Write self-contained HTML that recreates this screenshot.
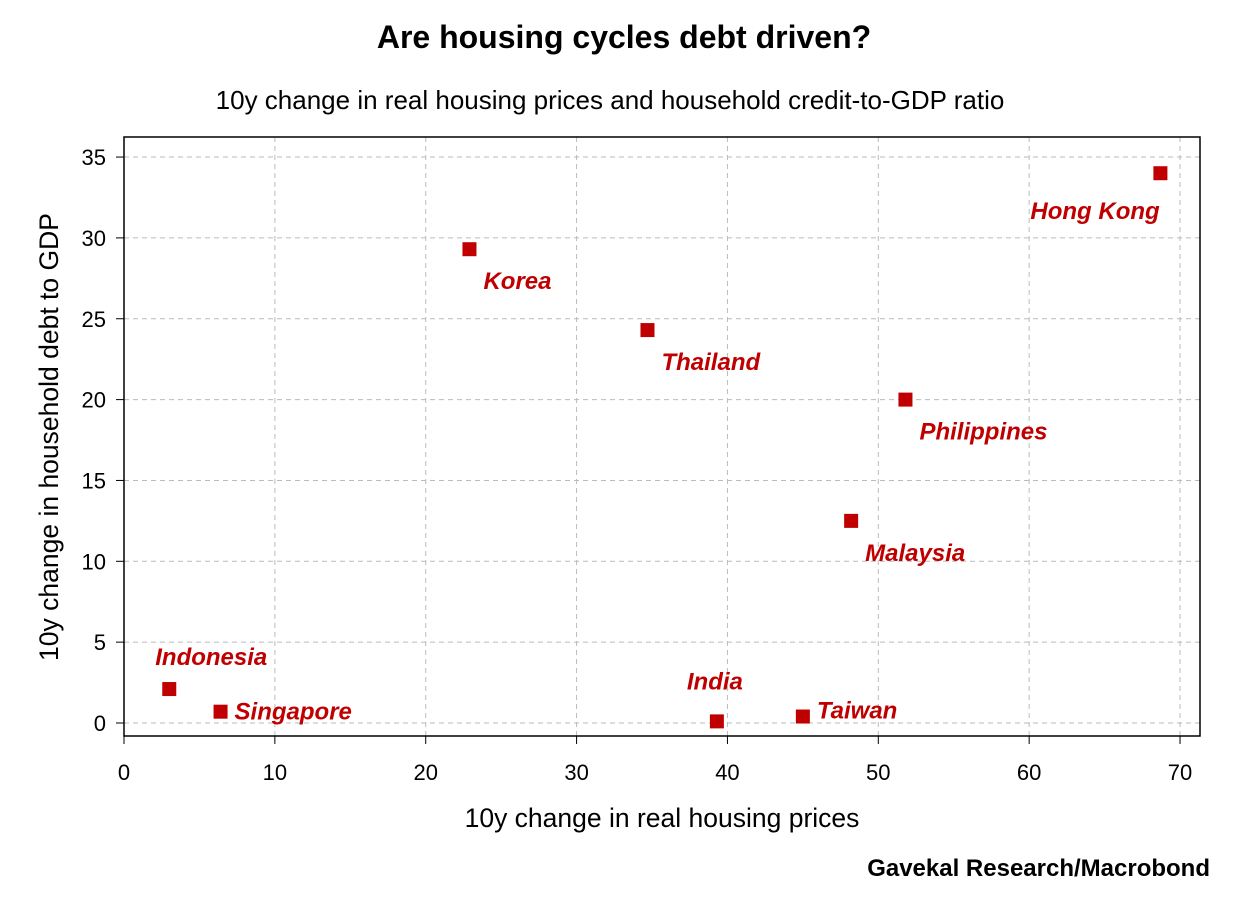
<!DOCTYPE html>
<html><head><meta charset="utf-8"><style>
body{margin:0;background:#fff;}
svg text{font-family:"Liberation Sans Narrow","Liberation Sans",sans-serif;}
</style></head><body>
<svg id="chart" width="1242" height="892">
<text x="624" y="48" text-anchor="middle" font-size="32" font-weight="bold">Are housing cycles debt driven?</text>
<text x="610" y="109" text-anchor="middle" font-size="26">10y change in real housing prices and household credit-to-GDP ratio</text>
<g id="grid"></g>
<rect x="124" y="137" width="1076" height="599" fill="none" stroke="#000" stroke-width="1.5"/>
<g id="axes"></g>
<g id="points"></g>
<text x="662" y="827" text-anchor="middle" font-size="26.5">10y change in real housing prices</text>
<text transform="translate(58,437) rotate(-90)" text-anchor="middle" font-size="26.5">10y change in household debt to GDP</text>
<text x="1210" y="876" text-anchor="end" font-size="24" font-weight="bold">Gavekal Research/Macrobond</text>
</svg>
<script>
const countries=["Hong Kong","Korea","Thailand","Philippines","Malaysia","Indonesia","Singapore","India","Taiwan"];
const priceChange=[68.7,22.9,34.7,51.8,48.2,3.0,6.4,39.3,45.0];
const debtChange=[34.0,29.3,24.3,20.0,12.5,2.1,0.7,0.1,0.4];
const xTicks=[0,10,20,30,40,50,60,70];
const yTicks=[0,5,10,15,20,25,30,35];
const labelDx=[-130,14,14,14,14,-14,14,-30,14];
const labelDy=[46,40,40,40,40,-24,8,-32,2];
const ns="http://www.w3.org/2000/svg";
const X=v=>124+v*15.086, Y=v=>723-v*16.17;
function mk(t,a,p){const e=document.createElementNS(ns,t);for(const k in a)e.setAttribute(k,a[k]);p.appendChild(e);return e;}
const g=document.getElementById('grid'),ax=document.getElementById('axes'),pts=document.getElementById('points');
xTicks.forEach(v=>{
 if(v>0){const l=mk('line',{x1:X(v),x2:X(v),y1:137,y2:736,stroke:'#bbb','stroke-dasharray':'5,4'},g);
 
 }
 const t=mk('line',{x1:X(v),x2:X(v),y1:736,y2:744,stroke:'#000'},ax);
 
 
 const tx=mk('text',{x:X(v),y:780,'text-anchor':'middle','font-size':22},ax);tx.textContent=v;
 
 
});
yTicks.forEach(v=>{
 const l=mk('line',{x1:124,x2:1200,y1:Y(v),y2:Y(v),stroke:'#bbb','stroke-dasharray':'5,4'},g);
 
 
 const t=mk('line',{x1:116,x2:124,y1:Y(v),y2:Y(v),stroke:'#000'},ax);
 
 
 const tx=mk('text',{x:106,y:Y(v)+8,'text-anchor':'end','font-size':22},ax);tx.textContent=v;
 
 
});
countries.forEach((c,i)=>{
 const x=X(priceChange[i]),y=Y(debtChange[i]);
 const r=mk('rect',{x:x-7,y:y-7,width:14,height:14,fill:'#c00000'},pts);
 
 
 const t=mk('text',{x:x+labelDx[i],y:y+labelDy[i],'font-size':24,'font-weight':'bold','font-style':'italic',fill:'#c00000','text-anchor':labelDx[i]<0&&i==5?'middle':'start'},pts);
 if(i==5){t.setAttribute('x',x+42);}
 t.textContent=c;
 
 
});
</script>
</body></html>
